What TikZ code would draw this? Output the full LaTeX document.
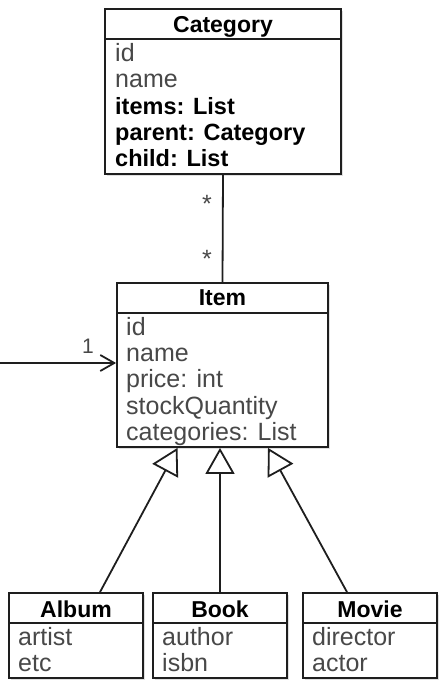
\documentclass[tikz,border=0pt]{standalone}
\usepackage{fontspec}
\setmainfont{Liberation Sans}
\usetikzlibrary{arrows.meta,shadows}
\definecolor{ink}{HTML}{1E1E1E}
\definecolor{attrgray}{HTML}{484848}
\tikzset{
  umlbox/.style={draw=ink, line width=1.8pt, fill=white, inner sep=0pt, rectangle,
    drop shadow={opacity=0.25, shadow xshift=2pt, shadow yshift=-2pt}},
  sepline/.style={draw=ink, line width=1.8pt},
  ttl/.style={font=\fontsize{23}{26}\selectfont\bfseries, text=black, inner sep=0pt, anchor=base},
  attr/.style={font=\fontsize{25}{28}\selectfont, text=attrgray, inner sep=0pt, anchor=base west},
  battr/.style={font=\fontsize{23.5}{28}\selectfont\bfseries, text=black, inner sep=0pt, anchor=base west},
  link/.style={draw=ink, line width=1.8pt},
  gen/.style={link, -{Triangle[open, length=26pt, width=29pt, line width=1.8pt]}},
  nav/.style={link, -{Straight Barb[length=14pt, width=16pt, line width=1.8pt]}},
  mult/.style={font=\fontsize{21}{24}\selectfont, text=attrgray, inner sep=0pt, anchor=base},
  star/.style={font=\fontsize{25}{28}\selectfont, text=attrgray, inner sep=0pt, anchor=base},
}
\begin{document}
\begin{tikzpicture}[x=1pt,y=-1pt]
\useasboundingbox (0,0) rectangle (439,681);

% Category
\node[umlbox, minimum width=236pt, minimum height=165pt] (cat) at (223,91.5) {};
\coordinate (catH) at (0,39);
\draw[sepline] (cat.west |- catH) -- (cat.east |- catH);
\node[ttl] (catT) at (223,32) {Category};
\node[attr] (c1) at (115,61.5) {id};
\node[attr] (c2) at (115,87.8) {name};
\node[battr] (c3) at (115,114.1) {items: List};
\node[battr] (c4) at (115,140.4) {parent: Category};
\node[battr] (c5) at (115,166.7) {child: List};

% Item
\node[umlbox, minimum width=211pt, minimum height=164pt] (item) at (222.5,365) {};
\coordinate (itemH) at (0,313);
\draw[sepline] (item.west |- itemH) -- (item.east |- itemH);
\node[ttl] (itemT) at (222.5,305) {Item};
\node[attr] (i1) at (126,335.5) {id};
\node[attr] (i2) at (126,361.7) {name};
\node[attr] (i3) at (126,387.9) {price: int};
\node[attr] (i4) at (126,414.1) {stockQuantity};
\node[attr] (i5) at (126,440.3) {categories: List};

% Album
\node[umlbox, minimum width=134pt, minimum height=85pt] (album) at (76,635.5) {};
\coordinate (subH) at (0,623);
\draw[sepline] (album.west |- subH) -- (album.east |- subH);
\node[ttl] (albumT) at (76,617) {Album};
\node[attr] (a1) at (18,645) {artist};
\node[attr] (a2) at (18,671.5) {etc};

% Book
\node[umlbox, minimum width=134pt, minimum height=85pt] (book) at (220,635.5) {};
\draw[sepline] (book.west |- subH) -- (book.east |- subH);
\node[ttl] (bookT) at (220,617) {Book};
\node[attr] (b1) at (162,645) {author};
\node[attr] (b2) at (162,671.5) {isbn};

% Movie
\node[umlbox, minimum width=134pt, minimum height=85pt] (movie) at (370,635.5) {};
\draw[sepline] (movie.west |- subH) -- (movie.east |- subH);
\node[ttl] (movieT) at (370,617) {Movie};
\node[attr] (m1) at (312,645) {director};
\node[attr] (m2) at (312,671.5) {actor};

% Category -- Item association
\draw[link] (cat.south) -- (item.north);
\node[star] (s1) at (207,212.5) {*};
\node[star] (s2) at (207,267.5) {*};

% incoming navigation arrow
\coordinate (lft) at (0,363);
\draw[nav] (lft) -- (lft -| item.west);
\node[mult] (one) at (88,353) {1};

% generalizations
\draw[gen] ([xshift=24pt]album.north) -- ([xshift=-45pt]item.south);
\draw[gen] (book.north) -- (book.north |- item.south);
\draw[gen] ([xshift=-23pt]movie.north) -- ([xshift=45.5pt]item.south);
\end{tikzpicture}
\end{document}
